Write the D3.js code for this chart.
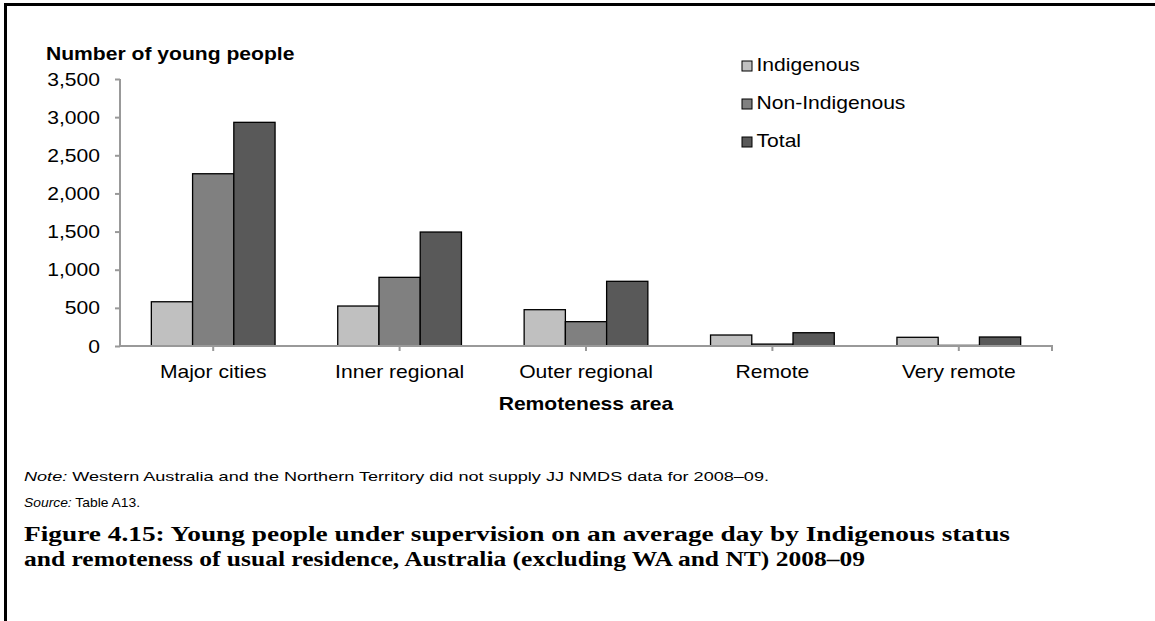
<!DOCTYPE html>
<html><head><meta charset="utf-8">
<script src="https://cdn.jsdelivr.net/npm/d3@7"></script>
<style>body{margin:0;background:#fff}svg{display:block}</style>
</head><body><svg id="c" width="1155" height="621"></svg>
<script>
const categories = ["Major cities","Inner regional","Outer regional","Remote","Very remote"];
const seriesNames = ["Indigenous","Non-Indigenous","Total"];
const indigenous = [580, 524, 476, 144, 114];
const nonIndigenous = [2258, 900, 319, 25, 8];
const total = [2932, 1494, 848, 174, 118];
const yTicks = [0,500,1000,1500,2000,2500,3000,3500];
const colors = ["#c0c0c0","#808080","#595959"];

(function(){
const svg = d3.select("#c");
const SANS = "'Liberation Sans', Arial, sans-serif";
const SERIF = "'Liberation Serif', 'Book Antiqua', Palatino, serif";
const FS = 19, K = 1.11;
function stretch(sel, k){
  sel.each(function(){
    const L = this.getComputedTextLength();
    d3.select(this).attr("textLength", L*k).attr("lengthAdjust","spacingAndGlyphs");
  });
}
function fitTo(sel, w){
  sel.attr("textLength", w).attr("lengthAdjust","spacingAndGlyphs");
}
const pL = 120, pR = 1052, pT = 79, pB = 346;
const x = d3.scaleBand().domain(categories).range([pL,pR]).paddingInner(0).paddingOuter(0);
const xs = d3.scaleBand().domain(seriesNames).range([0,x.bandwidth()]).paddingInner(0).paddingOuter(0.76);
const y = d3.scaleLinear().domain([0,3500]).range([pB,pT]);
const fmt = d3.format(",");

// border (top and left)
svg.append("line").attr("x1",5).attr("x2",1155).attr("y1",4.5).attr("y2",4.5).attr("stroke","#000").attr("stroke-width",3);
svg.append("line").attr("x1",5.5).attr("x2",5.5).attr("y1",3).attr("y2",621).attr("stroke","#000").attr("stroke-width",3);

// y axis
const yAxis = svg.append("g").attr("transform",`translate(${pL},0)`)
  .call(d3.axisLeft(y).tickValues(yTicks).tickFormat(fmt).tickSize(5).tickPadding(15));
yAxis.selectAll("path,line").attr("stroke","#999").attr("stroke-width",2);
yAxis.select("path").attr("d",`M0,${pT}V${pB}`);
yAxis.selectAll("text").attr("fill","#000").style("font-family",SANS).style("font-size",FS+"px");
stretch(yAxis.selectAll("text"), K);

// bars
const data = categories.map((c,i)=>({c, vals:[indigenous[i],nonIndigenous[i],total[i]]}));
const g = svg.append("g");
data.forEach(d=>{
  d.vals.forEach((v,j)=>{
    g.append("rect")
      .attr("x", x(d.c)+xs(seriesNames[j]))
      .attr("y", y(v))
      .attr("width", xs.bandwidth())
      .attr("height", pB - y(v))
      .attr("fill", colors[j]).attr("stroke","#000").attr("stroke-width",1.3);
  });
});

// x axis
const xAxis = svg.append("g").attr("transform",`translate(0,${pB})`)
  .call(d3.axisBottom(x).tickSize(5).tickPadding(14).tickSizeOuter(0));
xAxis.select("path").attr("stroke","#999").attr("stroke-width",2).attr("d",`M${pL},0H${pR}V5`);
xAxis.selectAll("line").attr("stroke","#999").attr("stroke-width",2);
xAxis.selectAll("text").attr("fill","#000").style("font-family",SANS).style("font-size",FS+"px");
stretch(xAxis.selectAll("text"), K);

// axis titles
const yt = svg.append("text").attr("x",46).attr("y",59.5).style("font-family",SANS).style("font-size",FS+"px").attr("font-weight","bold").text("Number of young people");
stretch(yt, K);
const xt = svg.append("text").attr("x",(pL+pR)/2).attr("y",410).attr("text-anchor","middle").style("font-family",SANS).style("font-size",FS+"px").attr("font-weight","bold").text("Remoteness area");
stretch(xt, K);

// legend
const leg = svg.append("g");
seriesNames.forEach((s,i)=>{
  const by = 71 + i*38;
  leg.append("rect").attr("x",742).attr("y",by-10).attr("width",10).attr("height",10).attr("fill",colors[i]).attr("stroke","#000").attr("stroke-width",1);
  const t = leg.append("text").attr("x",756.5).attr("y",by).style("font-family",SANS).style("font-size",FS+"px").text(s);
  stretch(t, K);
});

// notes
const n = svg.append("text").attr("x",24).attr("y",481).style("font-family",SANS).style("font-size","13px");
n.append("tspan").attr("font-style","italic").text("Note:");
n.append("tspan").text(" Western Australia and the Northern Territory did not supply JJ NMDS data for 2008–09.");
fitTo(n, 745);
const s = svg.append("text").attr("x",24).attr("y",507).style("font-family",SANS).style("font-size","13px");
s.append("tspan").attr("font-style","italic").text("Source:");
s.append("tspan").text(" Table A13.");
fitTo(s, 116);

// figure title
const t1 = svg.append("text").attr("x",24).attr("y",541).style("font-family",SERIF).style("font-size","20px").attr("font-weight","bold")
  .text("Figure 4.15: Young people under supervision on an average day by Indigenous status");
fitTo(t1, 986);
const t2 = svg.append("text").attr("x",24).attr("y",566).style("font-family",SERIF).style("font-size","20px").attr("font-weight","bold")
  .text("and remoteness of usual residence, Australia (excluding WA and NT) 2008–09");
fitTo(t2, 841);
})();
</script></body></html>
